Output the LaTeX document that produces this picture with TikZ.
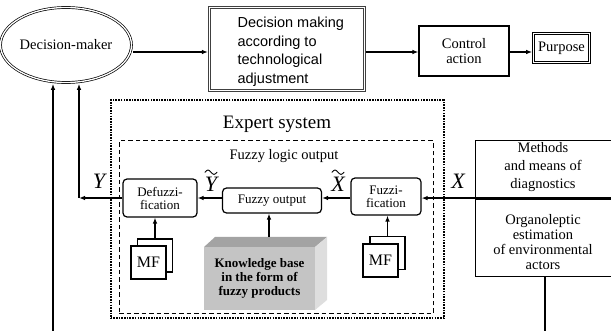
\documentclass[tikz,border=0pt]{standalone}
\usepackage{fontspec}
\setmainfont{Liberation Serif}
\newfontfamily\arialfont{Liberation Sans}
\usetikzlibrary{shapes.geometric,arrows.meta}
\newcommand\myfs[2]{\fontsize{#1}{#2}\selectfont}
\begin{document}
\begin{tikzpicture}[x=1pt,y=-1pt,line width=1.2pt,
  arr/.style={-{Latex[length=6pt,width=4.6pt]}},
  rbox/.style={draw,rounded corners=4pt,inner sep=0pt,align=center,font=\myfs{13}{13}},
  mfbox/.style={draw,fill=white,inner sep=0pt,minimum width=35pt,minimum height=33pt,font=\myfs{16}{16}},
  lbl/.style={inner sep=0pt,font=\myfs{22}{22}\itshape},
  tld/.style={line width=0.9pt,line cap=round},
  txt/.style={inner sep=0pt,align=center},
  dbl/.style={double,line width=0.7pt,double distance=1.3pt,outer sep=1.4pt}]
\useasboundingbox (0,0) rectangle (611,331);

% top row
\node[ellipse,draw,dbl,minimum width=116pt,minimum height=75pt,inner sep=0pt,font=\myfs{14.5}{16}] (dm) at (66,45) {Decision-maker};
\node[draw=black!75,double=white,line width=0.9pt,double distance=1.4pt,outer sep=1.6pt,minimum width=155pt,minimum height=83pt] (dbox) at (287,49) {};
\node[anchor=west,align=left,inner sep=0pt,font=\arialfont\myfs{14.5}{18.5}] (dtext) at (237,52) {Decision making\\according to\\technological\\adjustment};
\node[draw,minimum width=90pt,minimum height=50pt,align=center,inner sep=0pt,font=\myfs{14.5}{15}] (ca) at (464,51) {Control\\action};
\node[draw,dbl,minimum width=56pt,minimum height=29pt,inner sep=0pt,font=\myfs{14.5}{15}] (pp) at (561.5,48) {Purpose};

\coordinate (h) at (0,52);
\draw[arr] (dm.east|-h) -- (dbox.west|-h);
\draw[arr] (dbox.east|-h) -- (ca.west|-h);
\draw[arr] (ca.east|-h) -- (pp.west|-h);

% expert system frames
\node[draw,line width=2pt,dash pattern=on 1.6pt off 1.1pt,minimum width=333pt,minimum height=218pt,inner sep=0pt] (es) at (277,209.5) {};
\node[txt,font=\myfs{19}{19}] (est) at (277,124) {Expert system};
\node[draw,line width=1pt,dash pattern=on 4.5pt off 3pt,minimum width=314pt,minimum height=173pt,inner sep=0pt] (fl) at (276,227.5) {};
\node[txt,font=\myfs{14.5}{15}] (flt) at (284,156) {Fuzzy logic output};

% inner blocks
\node[rbox,minimum width=74pt,minimum height=38pt] (df) at (160,198) {Defuzzi-\\fication};
\node[rbox,minimum width=99pt,minimum height=25pt] (fo) at (272,200.5) {Fuzzy output};
\node[rbox,minimum width=70pt,minimum height=37pt] (fz) at (386,196.5) {Fuzzi-\\fication};

% labels
\node[lbl] (Xl) at (458,181) {X};
\node[lbl] (Yl) at (99,181) {Y};
\node[lbl] (Xt) at (338,184.5) {X};
\node[lbl] (Yt) at (211,184.5) {Y};
\draw[tld] ([xshift=-6pt,yshift=4.5pt]Xt.north) sin +(3,-2.2) cos +(3,2.2) sin +(3,2.2) cos +(3,-2.2);
\draw[tld] ([xshift=-6pt,yshift=4.5pt]Yt.north) sin +(3,-2.2) cos +(3,2.2) sin +(3,2.2) cos +(3,-2.2);

% right-hand boxes
\node[minimum width=135pt,minimum height=56.5pt,inner sep=0pt] (meth) at (543.5,169.25) {};
\node[txt,font=\myfs{14.5}{18}] (metht) at (543,167) {Methods\\and means of\\diagnostics};
\node[minimum width=135pt,minimum height=76pt,inner sep=0pt] (org) at (543.5,238) {};
\node[txt,font=\myfs{14.5}{15.3}] (orgt) at (543,242) {Organoleptic\\estimation\\of environmental\\actors};
\draw (meth.north east) -- (meth.north west) -- (org.south west) -- (org.south east);
\draw (meth.south west) -- (meth.south east);
\draw (org.north west) -- (org.north east);

% MF stacks
\node[mfbox] (mfb1) at (155,255.5) {};
\node[mfbox] (mf1) at (148.5,262.5) {MF};
\node[mfbox] (mfb2) at (387.5,253) {};
\node[mfbox] (mf2) at (380.5,260.5) {MF};

% knowledge base (3D block)
\fill[black!36] (204,247) -- (215,237) -- (327,237) -- (315,247) -- cycle;
\fill[black!13] (315,247) -- (327,237) -- (327,300) -- (315,310) -- cycle;
\node[fill=black!23,minimum width=111pt,minimum height=63pt,inner sep=0pt,align=center,font=\bfseries\myfs{13}{14}] (kb) at (259.5,278.5) {Knowledge base\\in the form of\\fuzzy products};
\coordinate (kbt) at (269,237);

% connectors inside
\coordinate (m) at (0,198);
\draw[arr] (meth.south west) -- (fz.east|-meth.south west);
\draw[arr] (fz.west|-m) -- (fo.east|-m);
\draw[arr] (fo.west|-m) -- (df.east|-m);
\coordinate (yc) at (79,198);
\draw[arr] (df.west|-m) -- (yc);
\draw[arr] (yc) -- (yc|-dm.south);
\draw[arr] (mfb1.north) -- (mfb1.north|-df.south);
\draw[arr] (mfb2.north) -- (mfb2.north|-fz.south);
\draw[arr] (kbt) -- (kbt|-fo.south);

% feedback lines at the bottom
\coordinate (b1) at (53,331);
\draw[arr] (b1) -- (b1|-dm.south);
\coordinate (b2) at (545,331);
\draw (org.south-|b2) -- (b2);
\end{tikzpicture}
\end{document}
